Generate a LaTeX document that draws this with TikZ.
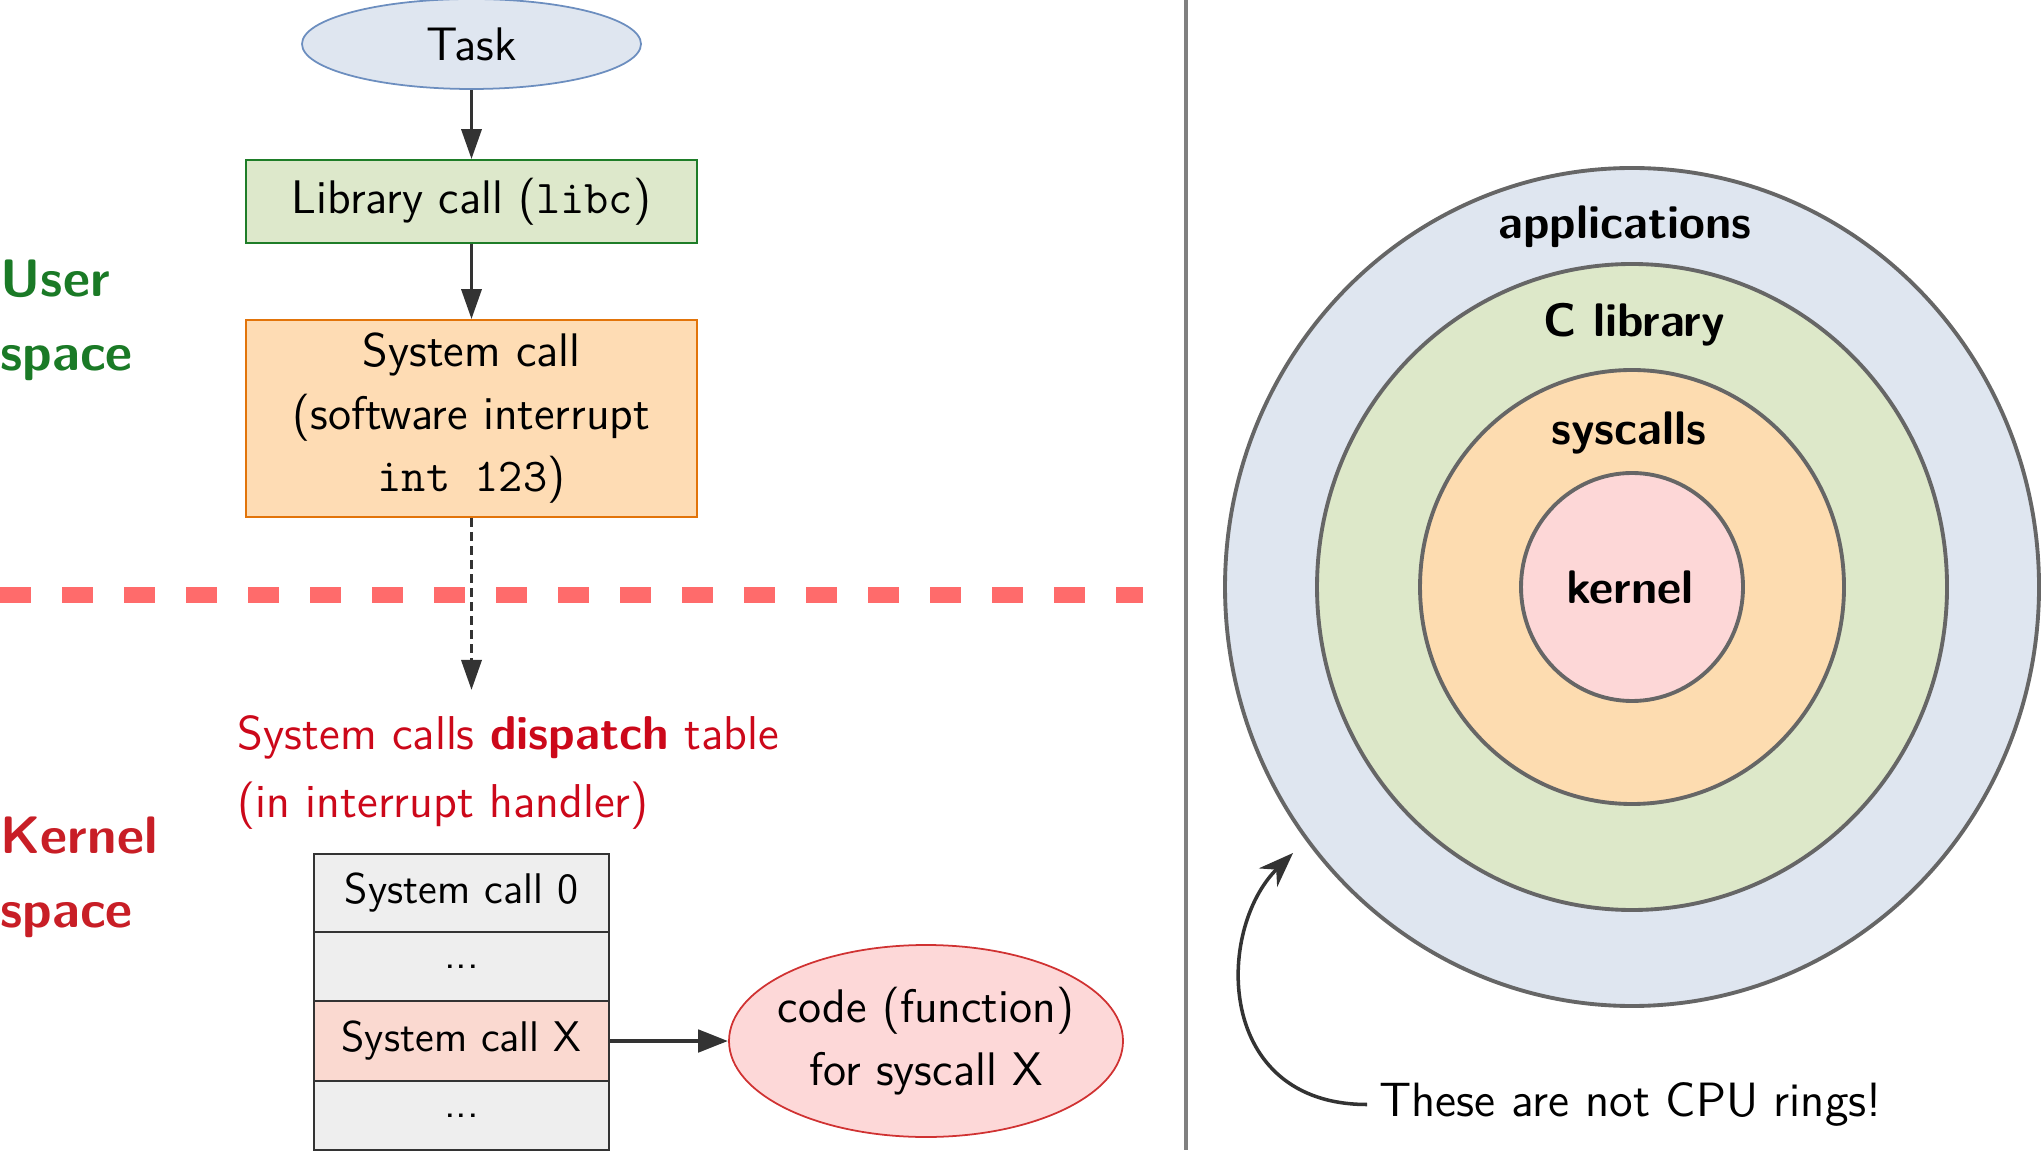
\documentclass[tikz,border=0pt]{standalone}
\usepackage{fontspec}
\usetikzlibrary{shapes.geometric,arrows.meta}

\definecolor{taskfill}{RGB}{223,230,240}
\definecolor{taskedge}{RGB}{108,142,191}
\definecolor{libfill}{RGB}{221,232,203}
\definecolor{libedge}{RGB}{30,125,40}
\definecolor{sysfill}{RGB}{254,220,180}
\definecolor{sysedge}{RGB}{226,116,10}
\definecolor{codefill}{RGB}{253,216,216}
\definecolor{codeedge}{RGB}{208,50,50}
\definecolor{rowfill}{RGB}{238,238,238}
\definecolor{rowhigh}{RGB}{250,217,208}
\definecolor{rowedge}{RGB}{51,51,51}
\definecolor{arrowgray}{RGB}{51,51,51}
\definecolor{usergreen}{RGB}{26,122,38}
\definecolor{kernelred}{RGB}{200,30,38}
\definecolor{dispatchred}{RGB}{204,8,26}
\definecolor{borderred}{RGB}{255,107,107}
\definecolor{ringedge}{RGB}{102,102,102}
\definecolor{ringblue}{RGB}{223,230,240}
\definecolor{ringgreen}{RGB}{221,232,201}
\definecolor{ringorange}{RGB}{253,220,176}
\definecolor{ringpink}{RGB}{253,215,215}

\newcommand{\skipdots}{...}

\tikzset{
    taskshape/.style={ellipse, draw=taskedge, fill=taskfill, line width=0.5pt,
        minimum width=3.39cm, minimum height=0.90cm, inner sep=0pt},
    libbox/.style={rectangle, draw=libedge, fill=libfill, line width=0.5pt,
        minimum width=4.51cm, minimum height=0.83cm, inner sep=0pt},
    sysbox/.style={rectangle, draw=sysedge, fill=sysfill, line width=0.5pt,
        minimum width=4.51cm, minimum height=1.97cm, inner sep=0pt, align=center,
        font=\sffamily\fontsize{13.4}{17.8}\selectfont},
    tablerow/.style={rectangle, draw=rowedge, line width=0.6pt,
        minimum width=2.95cm, inner sep=0pt, font=\sffamily\fontsize{12.2}{15}\selectfont},
    codeshape/.style={ellipse, draw=codeedge, fill=codefill, line width=0.5pt,
        minimum width=3.94cm, minimum height=1.92cm, inner xsep=-0.1cm, inner ysep=0pt,
        align=center, font=\sffamily\fontsize{13.4}{17.8}\selectfont},
    flow/.style={draw=arrowgray, line width=1pt, -{Triangle[length=0.3cm, width=0.2cm]}},
    sidelabel/.style={anchor=west, inner sep=0pt, align=left,
        font=\sffamily\bfseries\fontsize{15}{21}\selectfont},
    ringlabel/.style={inner sep=0pt, font=\sffamily\bfseries\fontsize{13.4}{16}\selectfont},
}

\begin{document}
\begin{tikzpicture}[font=\sffamily\fontsize{13.4}{17.5}\selectfont]
    \useasboundingbox (0,0) rectangle (20.42,-11.53);

    \node[taskshape] (task) at (4.715,-0.44) {Task};
    \node[libbox] (libcall) at (4.715,-2.015) {Library call (\texttt{libc})};
    \node[sysbox] (syscall) at (4.715,-4.185) {System call\\(software interrupt\\\texttt{int 123})};
    \draw[flow] (task) -- (libcall);
    \draw[flow] (libcall) -- (syscall);

    \node[sidelabel, text=usergreen] (userspace) at (0,-3.20) {User\\space};
    \node[sidelabel, text=kernelred] (kernelspace) at (0,-8.77) {Kernel\\space};

    \draw[borderred, line width=0.16cm, dash pattern=on 0.31cm off 0.31cm] (0,-5.95) -- (11.43,-5.95);

    \coordinate (dispatchtip) at (4.715,-6.90);
    \draw[flow, dash pattern=on 2.5pt off 1.5pt] (syscall) -- (dispatchtip);
    \node[anchor=west, inner sep=0pt, align=left, text=dispatchred,
        font=\sffamily\fontsize{13.5}{19.6}\selectfont] (dispatch) at (2.37,-7.725)
        {System calls \textbf{dispatch} table\\(in interrupt handler)};

    \foreach \txt/\nm/\col/\y/\h in {System call 0/row0/rowfill/8.93/0.78, \skipdots/rowa/rowfill/9.665/0.69,
            System call X/rowx/rowhigh/10.41/0.80, \skipdots/rowb/rowfill/11.155/0.69}{
        \node[tablerow, fill=\col, minimum height=\h cm] (\nm) at (4.615,-\y) {\txt};
    }
    \node[codeshape] (code) at (9.26,-10.41) {code (function)\\for syscall X};
    \draw[draw=arrowgray, line width=1.4pt, -{Triangle[length=0.3cm, width=0.22cm]}] (rowx) -- (code);

    \draw[draw=gray, line width=0.9pt] (11.86,0) -- (11.86,-11.50);

    \foreach \rx/\ry/\col in {4.07/4.19/ringblue, 3.15/3.23/ringgreen, 2.12/2.17/ringorange, 1.11/1.14/ringpink}{
        \filldraw[fill=\col, draw=ringedge, line width=1.1pt] (16.32,-5.87) ellipse [x radius=\rx, y radius=\ry];
    }
    \node[ringlabel] (apps) at (16.25,-2.27) {applications};
    \node[ringlabel] (clib) at (16.34,-3.25) {C library};
    \node[ringlabel] (calls) at (16.29,-4.33) {syscalls};
    \node[ringlabel] (kernel) at (16.30,-5.87) {kernel};

    \node[anchor=west, font=\sffamily\fontsize{13.7}{17.5}\selectfont] (note) at (13.67,-11.045) {These are not CPU rings!};
    \coordinate (ringtip) at (12.93,-8.53);
    \draw[draw=arrowgray, line width=1pt, -{Stealth[length=0.35cm, width=0.26cm]}]
        (note.west) .. controls (12.15,-11.045) and (12.15,-9.3) .. (ringtip);
\end{tikzpicture}
\end{document}
